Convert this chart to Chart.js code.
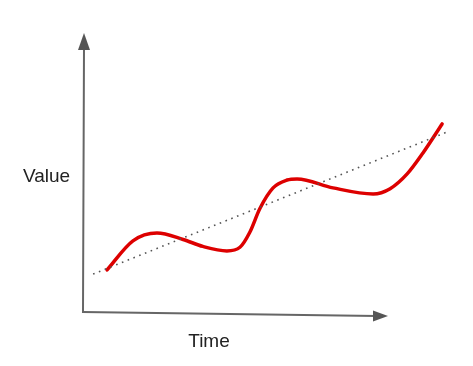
<!DOCTYPE html>
<html>
<head>
<meta charset="utf-8">
<script src="https://cdn.jsdelivr.net/npm/chart.js@4"></script>
<style>
  html, body { margin: 0; padding: 0; background: #fff; }
  canvas { display: block; }
</style>
</head>
<body>
<canvas id="sketch" width="473" height="366"></canvas>
<script>
// hand-drawn "value over time" sketch
const curveTime  = [0.76, 1.61, 2.40, 3.26, 3.91, 4.70, 5.13, 5.45, 5.79, 6.22, 6.68, 7.01, 8.19, 9.51, 10.07, 10.63, 11.15, 11.78];
const curveValue = [1.51, 2.55, 2.83, 2.60, 2.35, 2.19, 2.32, 2.85, 3.72, 4.45, 4.73, 4.77, 4.45, 4.23, 4.42, 4.95, 5.70, 6.74];
const trendTime  = [0.30, 11.94];
const trendValue = [1.36, 6.45];
const axisLabels = ["Time", "Value"];
const timeAxisEnd = 10;    // where the arrow tips sit
const valueAxisEnd = 10;
const timeAxisDrop = -0.14; // x axis sags a little to the right

const ctx = document.getElementById("sketch").getContext("2d");

const toPoints = (xs, ys) => xs.map((x, i) => ({ x: x, y: ys[i] }));

// draws the arrow axes and the two words
const sketchAxes = {
    id: "sketchAxes",
    afterDatasetsDraw(chart) {
        const c = chart.ctx;
        const xs = chart.scales.x, ys = chart.scales.y;
        const ox = xs.getPixelForValue(0), oy = ys.getPixelForValue(0);
        const yTip = ys.getPixelForValue(valueAxisEnd);
        const xTip = xs.getPixelForValue(timeAxisEnd);
        const xTipY = ys.getPixelForValue(timeAxisDrop);
        c.save();
        c.strokeStyle = "#666";
        c.fillStyle = "#555";
        c.lineWidth = 2;
        c.lineCap = "square";
        // y axis
        c.beginPath();
        c.moveTo(ox - 1, oy);
        c.lineTo(ox, yTip + 14);
        c.stroke();
        c.beginPath();
        c.moveTo(ox, yTip);
        c.lineTo(ox - 6, yTip + 17);
        c.lineTo(ox + 6, yTip + 17);
        c.closePath();
        c.fill();
        // x axis
        c.beginPath();
        c.moveTo(ox - 1, oy);
        c.lineTo(xTip - 12, xTipY);
        c.stroke();
        c.beginPath();
        c.moveTo(xTip, xTipY);
        c.lineTo(xTip - 15, xTipY - 5.5);
        c.lineTo(xTip - 15, xTipY + 5.5);
        c.closePath();
        c.fill();
        // words
        c.fillStyle = "#222";
        c.font = "19px 'Liberation Sans', Arial, sans-serif";
        c.textBaseline = "alphabetic";
        c.textAlign = "center";
        c.fillText(axisLabels[0], ox + 125, oy + 35);
        c.textAlign = "left";
        c.fillText(axisLabels[1], ox - 61, oy - 130);
        c.restore();
    }
};

new Chart(ctx, {
    type: "scatter",
    data: {
        datasets: [
            {
                label: "trend",
                data: toPoints(trendTime, trendValue),
                showLine: true,
                borderColor: "#555",
                borderWidth: 1.6,
                borderDash: [1.6, 4.6],
                pointRadius: 0,
                fill: false
            },
            {
                label: "value",
                data: toPoints(curveTime, curveValue),
                showLine: true,
                borderColor: "#dd0000",
                borderWidth: 3.5,
                borderCapStyle: "round",
                cubicInterpolationMode: "monotone",
                pointRadius: 0,
                fill: false
            }
        ]
    },
    plugins: [sketchAxes],
    options: {
        responsive: false,
        animation: false,
        layout: { padding: { left: 84, right: 9, top: 33, bottom: 54 } },
        plugins: {
            legend: { display: false },
            tooltip: { enabled: false }
        },
        scales: {
            x: { type: "linear", min: 0, max: 12.5, display: false },
            y: { type: "linear", min: 0, max: 10, display: false }
        },
        elements: { line: { borderJoinStyle: "round" } },
        clip: false
    }
});
</script>
</body>
</html>
